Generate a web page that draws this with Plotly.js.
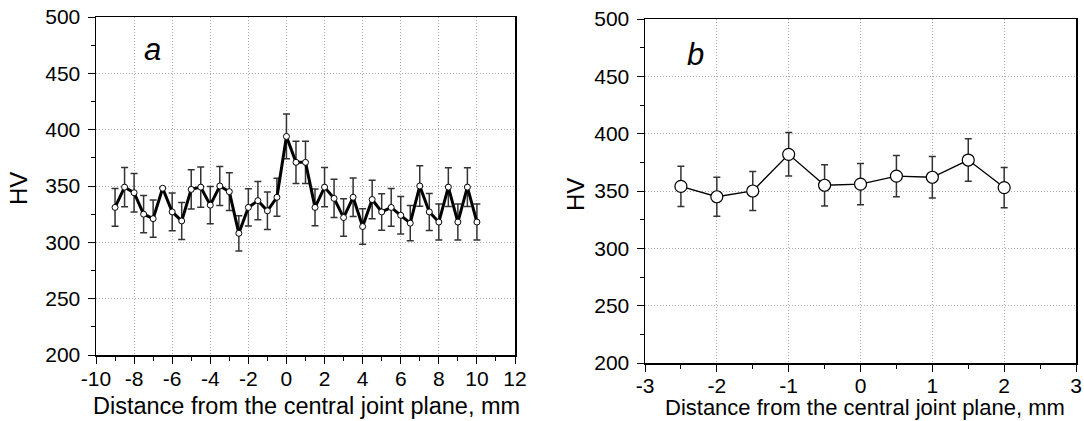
<!DOCTYPE html>
<html>
<head>
<meta charset="utf-8">
<script src="https://cdn.plot.ly/plotly-3.0.1.min.js"></script>
<style>html,body{margin:0;padding:0;background:#fff;}#chart{width:1084px;height:421px;}</style>
</head>
<body>
<div id="chart"></div>
<script>
// Panel a data
const xA = [-9,-8.5,-8,-7.5,-7,-6.5,-6,-5.5,-5,-4.5,-4,-3.5,-3,-2.5,-2,-1.5,-1,-0.5,0,0.5,1,1.5,2,2.5,3,3.5,4,4.5,5,5.5,6,6.5,7,7.5,8,8.5,9,9.5,10];
const hvA = [331,349,344,325,321,348,327,319,347,349,333,350,345,308,331,337,328,340,394,371,371,331,349,339,322,340,314,338,327,331,324,317,350,327,318,349,318,349,318];
const errA = [16.7,17.4,17,16.5,16.5,null,16.8,16.4,17.5,17.9,16.6,17.4,16.7,15.6,16.5,16.9,16.6,16.9,19.9,18.7,18.7,16.3,17.4,17,16.7,17,15.8,17,16.2,16.7,16.7,15.6,17.9,16.4,16,17.3,16,17.3,16];
// Panel b data
const xB = [-2.5,-2,-1.5,-1,-0.5,0,0.5,1,1.5,2];
const hvB = [354,345,350,382,355,356,363,362,377,353];
const errB = [17.5,17,17,19,18,18,18,18,18.5,17.5];

// Tick labels
const xTicksA = [-10,-8,-6,-4,-2,0,2,4,6,8,10,12];
const xTickTextA = ['-10','-8','-6','-4','-2','0','2','4','6','8','10','12'];
const xTicksB = [-3,-2,-1,0,1,2,3];
const xTickTextB = ['-3','-2','-1','0','1','2','3'];
const yTicks = [200,250,300,350,400,450,500];
const yTickText = ['200','250','300','350','400','450','500'];

const xTitle = 'Distance from the central joint plane, mm';
const yTitle = 'HV';
const FONT = 'Liberation Sans, Arial, sans-serif';

const traces = [
  {x:xA, y:hvA, xaxis:'x', yaxis:'y', type:'scatter', mode:'lines+markers',
   line:{color:'#000', width:3},
   marker:{symbol:'circle', size:6, color:'#fff', line:{color:'#000', width:1}},
   error_y:{type:'data', array:errA, visible:true, color:'#333', thickness:1.5, width:3.5},
   showlegend:false, hoverinfo:'x+y'},
  {x:xB, y:hvB, xaxis:'x2', yaxis:'y2', type:'scatter', mode:'lines+markers',
   line:{color:'#000', width:1.3},
   marker:{symbol:'circle', size:12, color:'#fff', line:{color:'#000', width:1.2}},
   error_y:{type:'data', array:errB, visible:true, color:'#333', thickness:1.5, width:3.5},
   showlegend:false, hoverinfo:'x+y'}
];

const gridStyle = {showgrid:true, gridcolor:'#a8a8a8', gridwidth:1, griddash:'1px,2px'};

function yax(domain, anchor){
  return Object.assign({domain:domain, anchor:anchor, range:[200,500],
    tickmode:'array', tickvals:yTicks, ticktext:yTickText,
    ticks:'outside', ticklen:7, tickwidth:1, tickcolor:'#000',
    showline:true, linecolor:'#000', linewidth:1.5, mirror:true,
    zeroline:false, ticklabelstandoff:3,
    tickfont:{family:FONT, size:21, color:'#000'},
    minor:{dtick:25, tick0:200, ticks:'outside', ticklen:4, tickcolor:'#000', showgrid:false}}, gridStyle);
}
function xax(domain, anchor, range, vals, text, minorStep, standoff){
  return Object.assign({domain:domain, anchor:anchor, range:range,
    tickmode:'array', tickvals:vals, ticktext:text,
    ticks:'outside', ticklen:7, tickwidth:1, tickcolor:'#000',
    showline:true, linecolor:'#000', linewidth:1.5, mirror:true,
    zeroline:false, ticklabelstandoff:standoff,
    tickfont:{family:FONT, size:21, color:'#000'},
    minor:{dtick:minorStep, tick0:range[0], ticks:'outside', ticklen:4, tickcolor:'#000', showgrid:false}}, gridStyle);
}

const W = 1084, H = 421;
const layout = {
  width:W, height:H, margin:{l:0, r:0, t:0, b:0},
  paper_bgcolor:'#fff', plot_bgcolor:'#fff',
  font:{family:FONT, color:'#000'},
  xaxis: xax([96/W, 515/W], 'y', [-10,12], xTicksA, xTickTextA, 1, -3),
  yaxis: yax([1-355/H, 1-17/H], 'x'),
  xaxis2: xax([645/W, 1076/W], 'y2', [-3,3], xTicksB, xTickTextB, 0.5, -4),
  yaxis2: yax([1-363/H, 1-19/H], 'x2'),
  annotations:[
    {text:xTitle, xref:'paper', yref:'paper', x:306.5/W, y:1-406/H, xanchor:'center', yanchor:'middle', showarrow:false, font:{family:FONT, size:23.5, color:'#000'}},
    {text:xTitle, xref:'paper', yref:'paper', x:864.5/W, y:1-407/H, xanchor:'center', yanchor:'middle', showarrow:false, font:{family:FONT, size:22, color:'#000'}},
    {text:yTitle, xref:'paper', yref:'paper', x:19/W, y:1-189/H, xanchor:'center', yanchor:'middle', textangle:-90, showarrow:false, font:{family:FONT, size:24, color:'#000'}},
    {text:yTitle, xref:'paper', yref:'paper', x:575/W, y:1-195/H, xanchor:'center', yanchor:'middle', textangle:-90, showarrow:false, font:{family:FONT, size:24, color:'#000'}},
    {text:'<i>a</i>', xref:'paper', yref:'paper', x:152/W, y:1-50/H, xanchor:'center', yanchor:'middle', showarrow:false, font:{family:FONT, size:31, color:'#000'}},
    {text:'<i>b</i>', xref:'paper', yref:'paper', x:695/W, y:1-55/H, xanchor:'center', yanchor:'middle', showarrow:false, font:{family:FONT, size:31, color:'#000'}}
  ]
};

Plotly.newPlot('chart', traces, layout, {staticPlot:true, displayModeBar:false});
</script>
</body>
</html>
